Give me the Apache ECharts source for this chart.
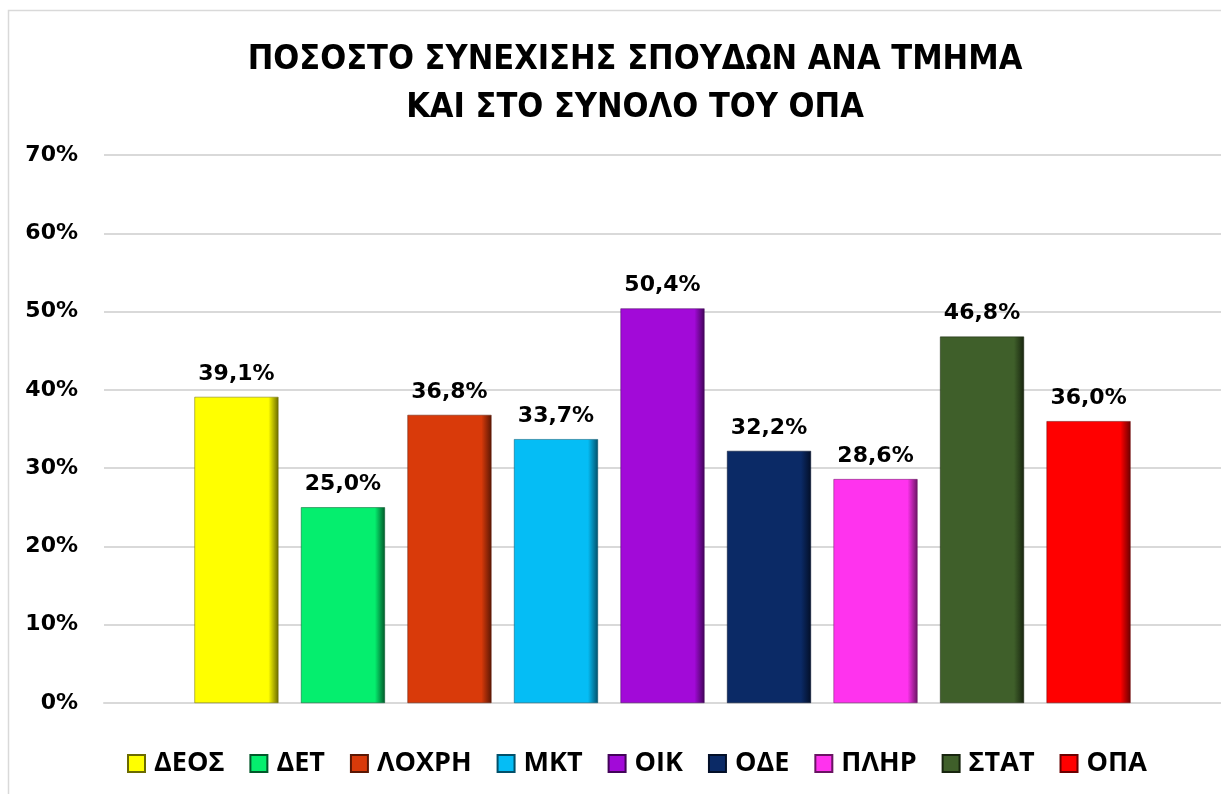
<!DOCTYPE html>
<html lang="el">
<head>
    <meta charset="utf-8"/>
    <title>Ποσοστό συνέχισης σπουδών</title>
    <script src="https://cdn.jsdelivr.net/npm/echarts@6/dist/echarts.min.js"></script>
</head>
<style>
    html, body { margin: 0; padding: 0; background: #ffffff; }
    #chart { width: 1221px; height: 794px; }
</style>
<body>
<div id="chart"></div>
<script type="text/javascript">
    // τμήματα (ένα series για το καθένα, όπως στο υπόμνημα)
    var tmimata = ['ΔΕΟΣ', 'ΔΕΤ', 'ΛΟΧΡΗ', 'ΜΚΤ', 'ΟΙΚ', 'ΟΔΕ', 'ΠΛΗΡ', 'ΣΤΑΤ', 'ΟΠΑ'];
    var pososta = [39.1, 25.0, 36.8, 33.7, 50.4, 32.2, 28.6, 46.8, 36.0];
    var xromata = ['#ffff00', '#05ee6e', '#d93a0a', '#05bdf5', '#a20ad8', '#0b2a66', '#ff33ee', '#3f5f2a', '#ff0000'];
    var skoura = ['#6b6b00', '#02582a', '#5a1704', '#02506a', '#420459', '#030f28', '#6a1463', '#18250f', '#6b0000'];

    var myChart = echarts.init(document.getElementById('chart'));

    var series = [];
    for (var i = 0; i < tmimata.length; i++) {
        series.push({
            name: tmimata[i],
            type: 'bar',
            barWidth: 84,
            barGap: '26.8%',
            data: [pososta[i]],
            itemStyle: {
                color: {
                    type: 'linear', x: 0, y: 0, x2: 1, y2: 0,
                    colorStops: [
                        {offset: 0, color: xromata[i]},
                        {offset: 0.88, color: xromata[i]},
                        {offset: 1, color: skoura[i]}
                    ]
                },
                borderColor: skoura[i],
                borderWidth: 0.5
            },
            label: {
                show: true,
                position: 'top',
                distance: 12,
                color: '#000',
                fontFamily: 'DejaVu Sans',
                fontWeight: 'bold',
                fontSize: 22,
                formatter: function (p) {
                    return p.value.toFixed(1).replace('.', ',') + '%';
                }
            }
        });
    }

    var option = {
        animation: false,
        backgroundColor: '#ffffff',
        //πλαίσιο γύρω από το γράφημα
        graphic: [{
            type: 'rect',
            silent: true,
            shape: {x: 8.5, y: 10.5, width: 1400, height: 1000},
            style: {fill: 'none', stroke: '#d9d9d9', lineWidth: 1.5}
        }],
        title: {
            text: 'ΠΟΣΟΣΤΟ ΣΥΝΕΧΙΣΗΣ ΣΠΟΥΔΩΝ ΑΝΑ ΤΜΗΜΑ\nΚΑΙ ΣΤΟ ΣΥΝΟΛΟ ΤΟΥ ΟΠΑ',
            left: 630,
            textAlign: 'center',
            top: 31,
            textStyle: {
                fontFamily: 'DejaVu Sans Condensed',
                fontWeight: 'bold',
                fontSize: 34,
                lineHeight: 48,
                color: '#000'
            }
        },
        legend: {
            data: tmimata,
            left: 122,
            top: 745,
            icon: 'rect',
            itemWidth: 17,
            itemHeight: 17,
            itemGap: 25,
            textStyle: {
                fontFamily: 'Open Sans',
                fontWeight: 'bold',
                fontSize: 27,
                color: '#000',
                padding: [0, 0, 0, 4]
            }
        },
        grid: {left: 104, right: -1, top: 155, bottom: 91, containLabel: false},
        xAxis: {
            type: 'category',
            data: [''],
            axisTick: {show: false},
            axisLabel: {show: false},
            axisLine: {lineStyle: {color: '#d9d9d9', width: 2}}
        },
        yAxis: {
            type: 'value',
            min: 0,
            max: 70,
            interval: 10,
            axisLine: {show: false},
            axisTick: {show: false},
            splitLine: {lineStyle: {color: '#d9d9d9', width: 2}},
            axisLabel: {
                formatter: '{value}%',
                margin: 26,
                color: '#000',
                fontFamily: 'DejaVu Sans',
                fontWeight: 'bold',
                fontSize: 22
            }
        },
        series: series
    };
    myChart.setOption(option);
</script>
</body>
</html>
